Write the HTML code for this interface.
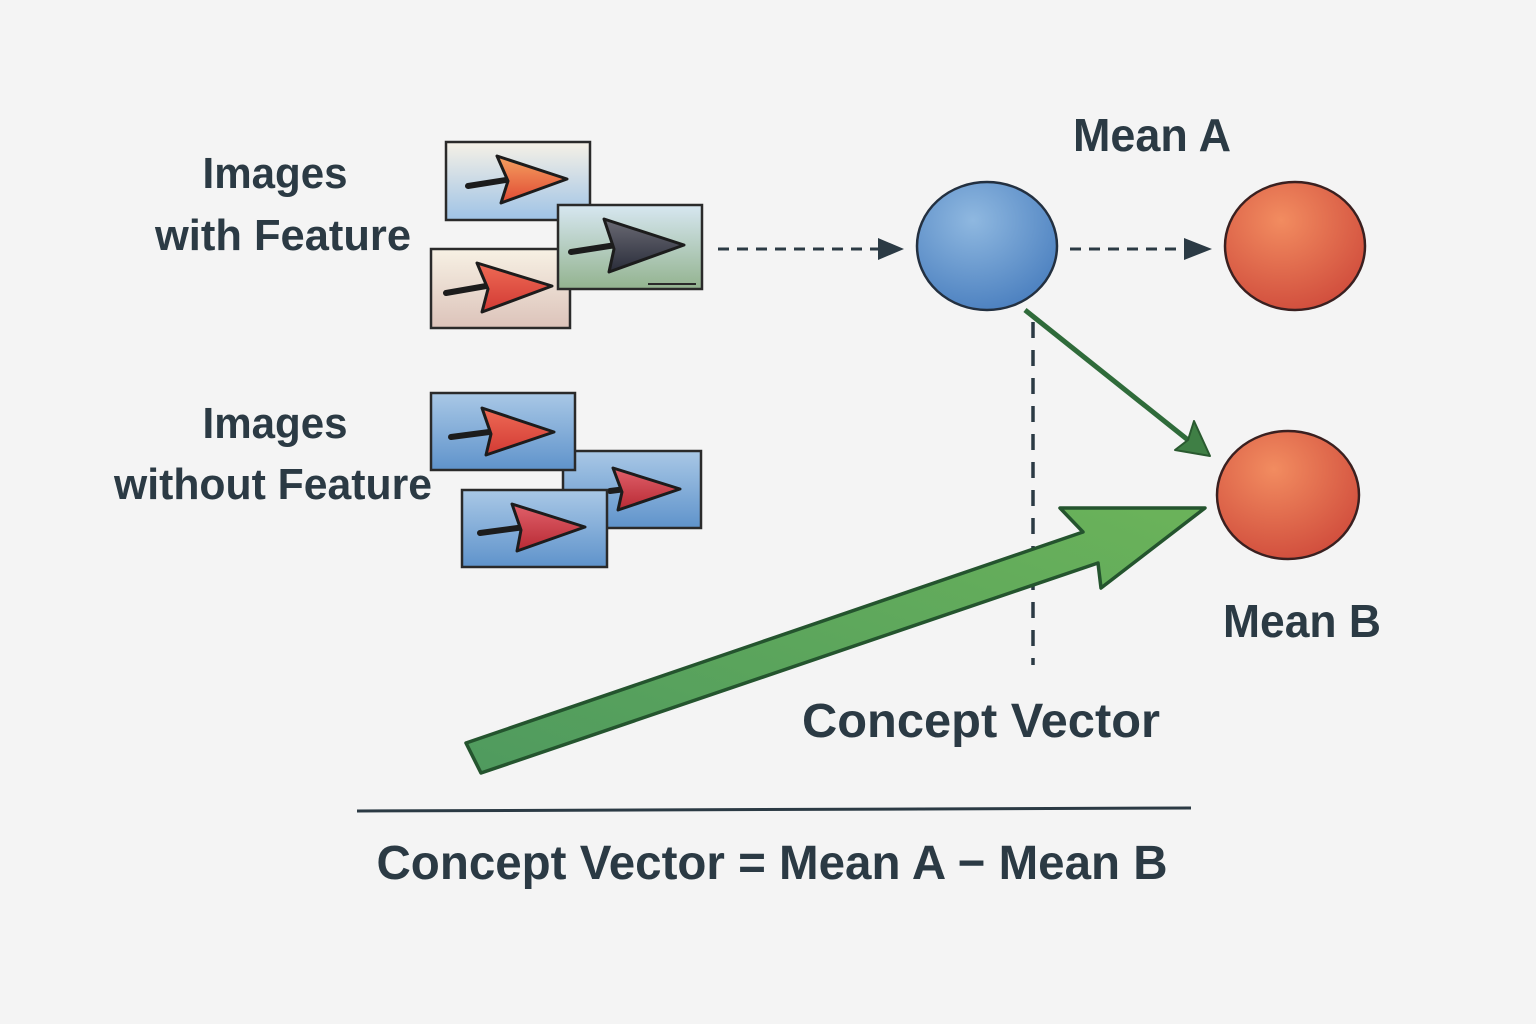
<!DOCTYPE html>
<html><head><meta charset="utf-8"><style>
html,body{margin:0;padding:0;background:#f4f4f4;}
svg{display:block;}
text{font-family:"Liberation Sans",sans-serif;font-weight:bold;fill:#2b3a44;}
</style></head><body>
<svg width="1536" height="1024" viewBox="0 0 1536 1024" xmlns="http://www.w3.org/2000/svg">
<defs>
<linearGradient id="g1" x1="0" y1="0" x2="0" y2="1"><stop offset="0" stop-color="#f6f1e6"/><stop offset="1" stop-color="#9fc3e6"/></linearGradient>
<linearGradient id="g2" x1="0" y1="0" x2="0" y2="1"><stop offset="0" stop-color="#f7f1e4"/><stop offset="1" stop-color="#dcc3ba"/></linearGradient>
<linearGradient id="g3" x1="0" y1="0" x2="0" y2="1"><stop offset="0" stop-color="#d7e7f1"/><stop offset="1" stop-color="#93b38f"/></linearGradient>
<linearGradient id="gb" x1="0" y1="0" x2="0" y2="1"><stop offset="0" stop-color="#a9c8e6"/><stop offset="1" stop-color="#5f93cb"/></linearGradient>
<linearGradient id="ho" x1="0" y1="0" x2="0" y2="1"><stop offset="0" stop-color="#f5a060"/><stop offset="1" stop-color="#e04a34"/></linearGradient>
<linearGradient id="hr" x1="0" y1="0" x2="0" y2="1"><stop offset="0" stop-color="#ee6a55"/><stop offset="1" stop-color="#d23a34"/></linearGradient>
<linearGradient id="hk" x1="0" y1="0" x2="0" y2="1"><stop offset="0" stop-color="#6a6a74"/><stop offset="1" stop-color="#2a2d3a"/></linearGradient>
<linearGradient id="hd" x1="0" y1="0" x2="0" y2="1"><stop offset="0" stop-color="#e0606a"/><stop offset="1" stop-color="#b82a34"/></linearGradient>
<radialGradient id="cb" cx="0.4" cy="0.3" r="0.75"><stop offset="0" stop-color="#8fb8e0"/><stop offset="1" stop-color="#4a7fbf"/></radialGradient>
<radialGradient id="cr" cx="0.4" cy="0.3" r="0.75"><stop offset="0" stop-color="#f28c60"/><stop offset="1" stop-color="#d04c3c"/></radialGradient>
<linearGradient id="ga" x1="0" y1="1" x2="1" y2="0"><stop offset="0" stop-color="#4f9a5e"/><stop offset="1" stop-color="#6bb35a"/></linearGradient>
</defs>

<rect x="446" y="142" width="144" height="78" fill="url(#g1)" stroke="#2a2a2a" stroke-width="2.5"/>
<path d="M468,186 L512,179" stroke="#1c1c1c" stroke-width="6" stroke-linecap="round"/>
<path d="M497,156 L567,179 L501,203 L508,181 Z" fill="url(#ho)" stroke="#1c1c1c" stroke-width="3" stroke-linejoin="round"/>

<rect x="431" y="249" width="139" height="79" fill="url(#g2)" stroke="#2a2a2a" stroke-width="2.5"/>
<path d="M446,293 L492,285" stroke="#1c1c1c" stroke-width="6" stroke-linecap="round"/>
<path d="M477,263 L552,286 L482,312 L488,289 Z" fill="url(#hr)" stroke="#1c1c1c" stroke-width="3" stroke-linejoin="round"/>

<rect x="558" y="205" width="144" height="84" fill="url(#g3)" stroke="#2a2a2a" stroke-width="2.5"/>
<path d="M571,252 L616,245" stroke="#1c1c1c" stroke-width="6" stroke-linecap="round"/>
<path d="M604,219 L684,245 L609,272 L614,249 Z" fill="url(#hk)" stroke="#1c1c1c" stroke-width="3" stroke-linejoin="round"/>
<path d="M648,284 L696,284" stroke="#2a2a2a" stroke-width="2"/>

<rect x="563" y="451" width="138" height="77" fill="url(#gb)" stroke="#2a2a2a" stroke-width="2.5"/>
<path d="M610,491 L650,486" stroke="#1c1c1c" stroke-width="6" stroke-linecap="round"/>
<path d="M613,468 L680,489 L618,510 L622,492 Z" fill="url(#hd)" stroke="#1c1c1c" stroke-width="3" stroke-linejoin="round"/>

<rect x="431" y="393" width="144" height="77" fill="url(#gb)" stroke="#2a2a2a" stroke-width="2.5"/>
<path d="M451,437 L497,431" stroke="#1c1c1c" stroke-width="6" stroke-linecap="round"/>
<path d="M482,408 L554,432 L486,455 L491,434 Z" fill="url(#hr)" stroke="#1c1c1c" stroke-width="3" stroke-linejoin="round"/>

<rect x="462" y="490" width="145" height="77" fill="url(#gb)" stroke="#2a2a2a" stroke-width="2.5"/>
<path d="M480,533 L525,527" stroke="#1c1c1c" stroke-width="6" stroke-linecap="round"/>
<path d="M512,504 L585,527 L517,551 L521,530 Z" fill="url(#hd)" stroke="#1c1c1c" stroke-width="3" stroke-linejoin="round"/>

<path d="M718,249 L880,249" stroke="#2b3a44" stroke-width="3" stroke-dasharray="11,8"/>
<path d="M878,238 L904,249 L878,260 Z" fill="#2b3a44"/>
<path d="M1070,249 L1186,249" stroke="#2b3a44" stroke-width="3" stroke-dasharray="11,8"/>
<path d="M1184,238 L1212,249 L1184,260 Z" fill="#2b3a44"/>
<path d="M1033,322 L1033,665" stroke="#2b3a44" stroke-width="3.5" stroke-dasharray="16,12"/>

<ellipse cx="987" cy="246" rx="70" ry="64" fill="url(#cb)" stroke="#233040" stroke-width="2.5"/>
<ellipse cx="1295" cy="246" rx="70" ry="64" fill="url(#cr)" stroke="#3a2020" stroke-width="2.5"/>
<ellipse cx="1288" cy="495" rx="71" ry="64" fill="url(#cr)" stroke="#3a2020" stroke-width="2.5"/>

<path d="M1025,310 L1188,440" stroke="#2f6b3a" stroke-width="5"/>
<path d="M1175,450 L1188,440 L1194,421 L1210,456 Z" fill="#3f7f45" stroke="#2a5a30" stroke-width="2" stroke-linejoin="round"/>

<path d="M466,743 L1083,532 L1060,508 L1205,508 L1101,588 L1098,563 L481,773 Z" fill="url(#ga)" stroke="#24542e" stroke-width="3.5" stroke-linejoin="round"/>

<text x="1152" y="151" font-size="46" text-anchor="middle" textLength="158" lengthAdjust="spacingAndGlyphs">Mean A</text>
<text x="275" y="188" font-size="44" text-anchor="middle" textLength="145" lengthAdjust="spacingAndGlyphs">Images</text>
<text x="283" y="250" font-size="44" text-anchor="middle" textLength="256" lengthAdjust="spacingAndGlyphs">with Feature</text>
<text x="275" y="438" font-size="44" text-anchor="middle" textLength="145" lengthAdjust="spacingAndGlyphs">Images</text>
<text x="273" y="499" font-size="44" text-anchor="middle" textLength="318" lengthAdjust="spacingAndGlyphs">without Feature</text>
<text x="1302" y="637" font-size="46" text-anchor="middle" textLength="158" lengthAdjust="spacingAndGlyphs">Mean B</text>
<text x="981" y="737" font-size="48" text-anchor="middle" textLength="358" lengthAdjust="spacingAndGlyphs">Concept Vector</text>
<path d="M357,811 L1191,808" stroke="#2b3a44" stroke-width="3"/>
<text x="772" y="879" font-size="48" text-anchor="middle" textLength="791" lengthAdjust="spacingAndGlyphs">Concept Vector = Mean A − Mean B</text>
</svg>
</body></html>
